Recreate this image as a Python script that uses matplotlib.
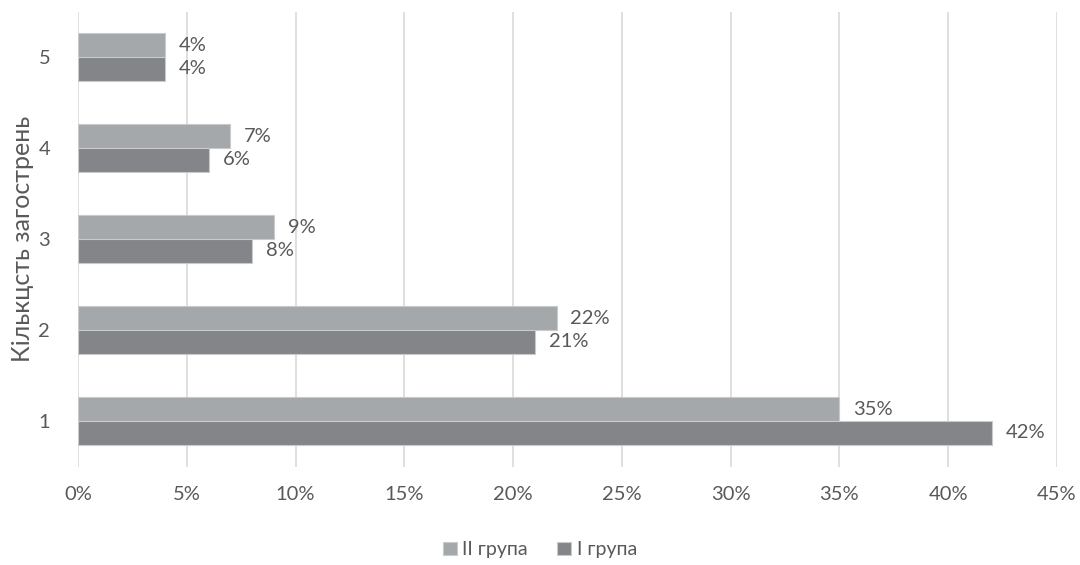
import matplotlib.pyplot as plt
import numpy as np

plt.rcParams['font.family'] = ['Lato', 'DejaVu Sans']

categories = ['1', '2', '3', '4', '5']
group2 = [35, 22, 9, 7, 4]   # II група
group1 = [42, 21, 8, 6, 4]   # I група
xticks = [0, 5, 10, 15, 20, 25, 30, 35, 40, 45]

c_light = '#a5a8ab'
c_dark = '#848588'
txt = '#595959'

fig = plt.figure(figsize=(10.8, 5.65), dpi=100)
ax = fig.add_axes([0.0722, 0.1743, 0.9065, 0.8053])

y = np.arange(len(categories))
h = 0.26
b2 = ax.barh(y + h / 2, group2, height=h, color=c_light, edgecolor='#c8cacc', linewidth=0.8, label='II група', zorder=3)
b1 = ax.barh(y - h / 2, group1, height=h, color=c_dark, edgecolor='#c8cacc', linewidth=0.8, label='I група', zorder=3)

for bars, vals in ((b2, group2), (b1, group1)):
    for bar, v in zip(bars, vals):
        ax.annotate(f'{v}%', (v, bar.get_y() + bar.get_height() / 2), xytext=(10, 0),
                    textcoords='offset points', va='center', ha='left', fontsize=14.5, color=txt)

ax.set_xlim(0, 45)
ax.set_ylim(-0.5, len(categories) - 0.5)
ax.set_xticks(xticks)
ax.set_xticklabels([f'{t}%' for t in xticks])
ax.set_yticks(y)
ax.set_yticklabels(categories)
ax.tick_params(axis='both', length=0, labelsize=14.5, labelcolor=txt)
ax.tick_params(axis='x', pad=14)
ax.tick_params(axis='y', pad=20)
ax.grid(axis='x', color='#d9d9d9', linewidth=1.2, zorder=0)
for s in ax.spines.values():
    s.set_visible(False)
ax.set_ylabel('Кількцсть загострень', fontsize=18, color=txt, labelpad=3)

fig.legend(handles=[b2, b1], loc='center', bbox_to_anchor=(0.5, 0.027), ncol=2, frameon=False,
           fontsize=14, labelcolor=txt, handlelength=0.7, handleheight=0.7, handletextpad=0.3, columnspacing=1.5)

fig.savefig('out.png', dpi=100)
